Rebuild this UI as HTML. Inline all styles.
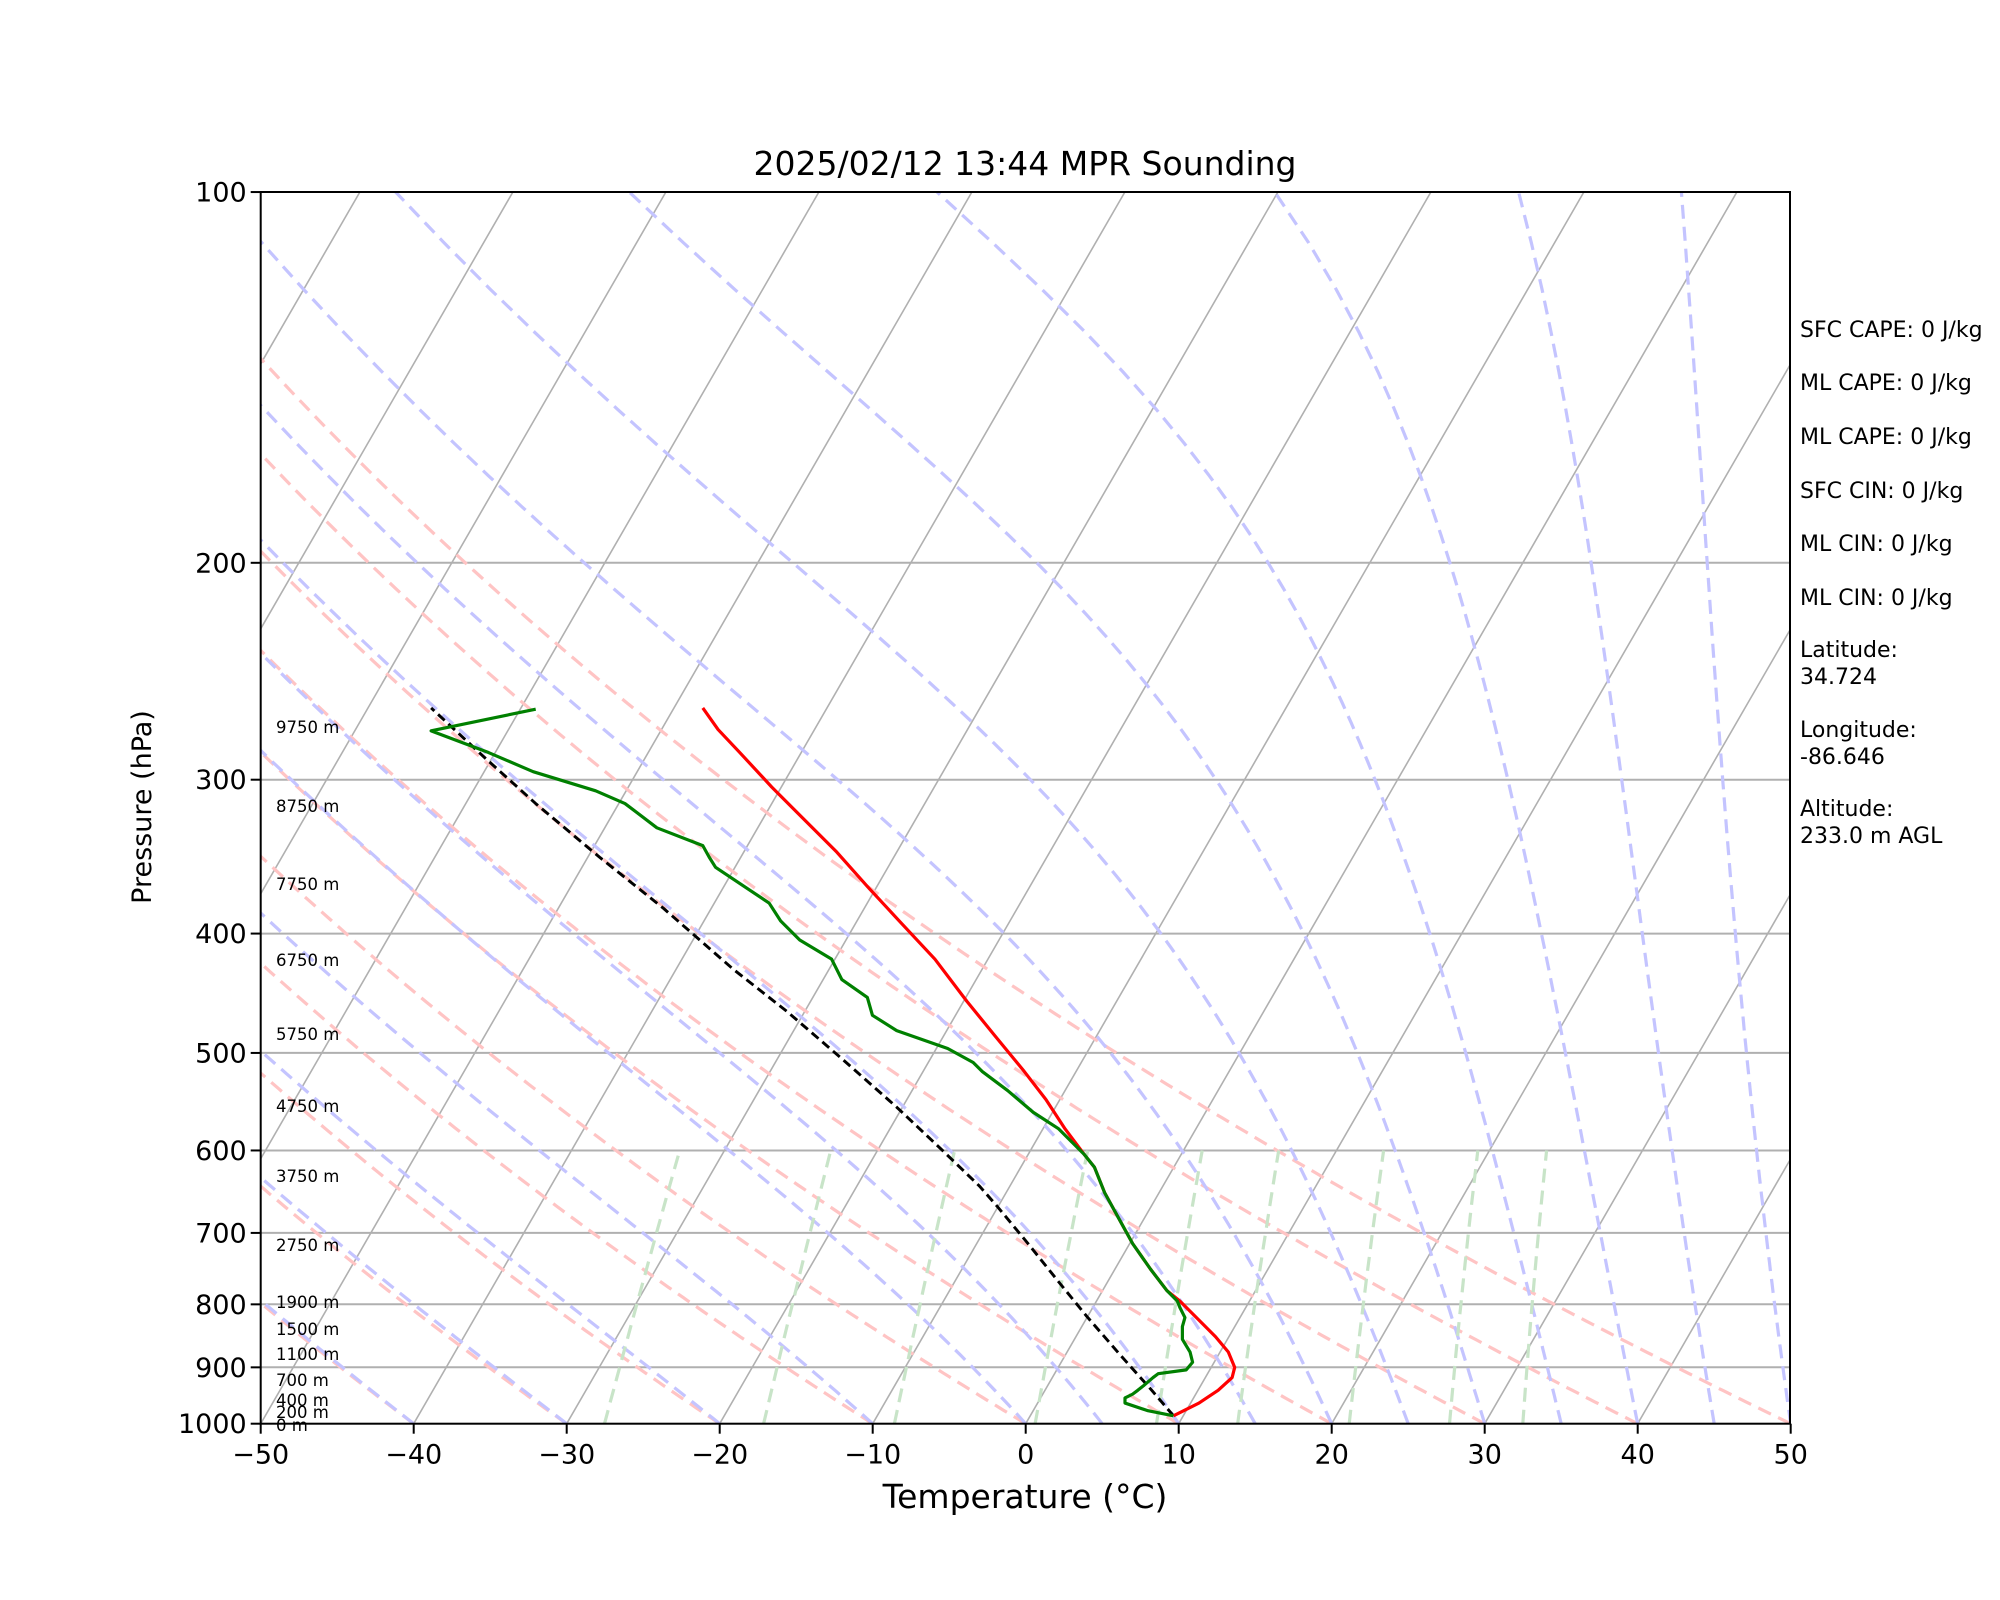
<!DOCTYPE html>
<html><head><meta charset="utf-8"><style>
html,body{margin:0;padding:0;background:#fff;}
svg{display:block;font-family:"DejaVu Sans","Liberation Sans",sans-serif;}
</style></head><body>
<svg id="s" xmlns="http://www.w3.org/2000/svg" width="2000" height="1600" viewBox="0 0 2000 1600">
<rect width="2000" height="1600" fill="#fff"/>
<defs><clipPath id="c"><rect x="260.7" y="192" width="1529.3" height="1231.7"/></clipPath></defs>
<g id="grid" clip-path="url(#c)"></g>
<g id="data" clip-path="url(#c)" transform="scale(1.2755)" fill="none" stroke-linejoin="round">
<polyline stroke="#000" stroke-width="2.3" stroke-dasharray="7,4" points="920,1110 903,1090 878,1062 852,1032 830,1005 806,975 782,946 768,930 740,903 703,868 660,830 617,793 575,760 520,712 470,672 420,630 380,594 338,555"/>
<polyline stroke="#ff0000" stroke-width="2.5" points="920,1110 940,1100 955,1090 966,1080 968,1072 963,1060 953,1048 940,1035 925,1020 915,1012 902,995 888,975 877,955 866,935 858,915 850,905 835,885 820,862 803,840 780,812 758,785 733,752 705,722 680,695 656,668 623,635 605,617 580,590 563,572 551,555"/>
<polyline stroke="#008000" stroke-width="2.5" points="920,1110 900,1106 882,1100 882,1096 888,1093 892,1090 897,1086 904,1080 908,1077 930,1074 935,1068 933,1060 927,1050 927,1040 929,1033 925,1025 923,1020 915,1012 902,995 888,975 877,955 866,935 858,915 850,905 840,895 830,885 810,872 790,855 770,840 763,833 743,822 703,808 684,796 680,782 660,768 652,752 627,737 612,722 603,708 561,680 556,672 551,663 515,649 490,630 467,620 418,605 383,590 338,573 420,556"/>
</g>
<rect x="260.7" y="192" width="1529.3" height="1231.7" fill="none" stroke="#000" stroke-width="2"/>
<g id="ticks" stroke="#000" stroke-width="2"></g>
<g id="txt" font-size="27" fill="#000"></g>
<text x="1025" y="175" font-size="33" text-anchor="middle">2025/02/12 13:44 MPR Sounding</text>
<text x="1025" y="1508" font-size="33" text-anchor="middle">Temperature (°C)</text>
<text x="0" y="0" font-size="27" text-anchor="middle" transform="translate(151,807) rotate(-90)">Pressure (hPa)</text>
<g font-size="22" fill="#000">
<text x="1800" y="337">SFC CAPE: 0 J/kg</text>
<text x="1800" y="390">ML CAPE: 0 J/kg</text>
<text x="1800" y="444">ML CAPE: 0 J/kg</text>
<text x="1800" y="498">SFC CIN: 0 J/kg</text>
<text x="1800" y="551">ML CIN: 0 J/kg</text>
<text x="1800" y="605">ML CIN: 0 J/kg</text>
<text x="1800" y="657">Latitude:</text><text x="1800" y="684">34.724</text>
<text x="1800" y="737">Longitude:</text><text x="1800" y="764">-86.646</text>
<text x="1800" y="816">Altitude:</text><text x="1800" y="843">233.0 m AGL</text>
</g>
<g font-size="16.5" fill="#000" id="hl"></g>
</svg>
<script>
var NS="http://www.w3.org/2000/svg";
var L=260.7,R=1790,T=192,B=1423.7,K=534.9,SK=0.5774,XS=15.3;
function Y(p){return B-K*Math.log(1000/p);}
function X(t,p){return L+(t+50)*XS+SK*(B-Y(p));}
function el(par,tag,a,txt){var e=document.createElementNS(NS,tag);for(var k in a)e.setAttribute(k,a[k]);if(txt!==undefined)e.textContent=txt;document.getElementById(par).appendChild(e);return e;}
function pl(pts,st,w,da){el("grid","polyline",{points:pts.map(function(q){return q[0].toFixed(1)+","+q[1].toFixed(1)}).join(" "),fill:"none",stroke:st,"stroke-width":w,"stroke-dasharray":da||"none"});}
var P=[];for(var p=1000;p>=100;p-=5)P.push(p);
[200,300,400,500,600,700,800,900].forEach(function(p){pl([[L,Y(p)],[R,Y(p)]],"#b0b0b0",2);});
for(var t=-150;t<=50;t+=10){pl([[X(t,1000),B],[X(t,100),T]],"#b0b0b0",1.6);}
for(var t0=-40;t0<=50;t0+=10){pl(P.map(function(p){return [X((t0+273.15)*Math.pow(p/1000,0.2857)-273.15,p),Y(p)]}),"#ffc4c4",3.2,"14,8");}
function es(tc){return 6.112*Math.exp(17.67*tc/(tc+243.5));}
function dTdp(p,Tk){var rs=0.622*es(Tk-273.15)/(p-es(Tk-273.15));var Rd=287.04,Lv=2.501e6,Cp=1005.7;return (1/p)*(Rd*Tk+Lv*rs)/(Cp+Lv*Lv*rs*0.622/(Rd*Tk*Tk));}
var mts=[-50,-40,-30,-20,-10];for(var t=0;t<=50;t+=5)mts.push(t);
mts.forEach(function(t0){var Tk=t0+273.15,p=1000,pts=[[X(t0,1000),B]];var h=-2;
 while(p>100){var k1=dTdp(p,Tk),k2=dTdp(p+h/2,Tk+h/2*k1),k3=dTdp(p+h/2,Tk+h/2*k2),k4=dTdp(p+h,Tk+h*k3);Tk+=h/6*(k1+2*k2+2*k3+k4);p+=h;if(Math.round(p)%10==0)pts.push([X(Tk-273.15,p),Y(p)]);}
 pl(pts,"#c4c4ff",3.2,"14,8");});
[0.0004,0.001,0.002,0.004,0.007,0.01,0.016,0.024,0.032].forEach(function(w){var pts=[];for(var p=1000;p>=600;p-=20){var e=p*w/(0.622+w),l=Math.log(e/6.112),td=243.5*l/(17.67-l);pts.push([X(td,p),Y(p)]);}pl(pts,"#c8e4c8",3.2,"14,8");});
for(var p=100;p<=1000;p+=100){var y=Y(p);el("ticks","line",{x1:L-10,y1:y,x2:L,y2:y});el("txt","text",{x:L-14,y:y+9.5,"text-anchor":"end"},String(p));}
for(var t=-50;t<=50;t+=10){var x=L+(t+50)*XS;el("ticks","line",{x1:x,y1:B,x2:x,y2:B+10});el("txt","text",{x:x,y:B+40,"text-anchor":"middle"},(t<0?"\u2212"+(-t):String(t)));}
[["9750 m",727],["8750 m",806],["7750 m",884],["6750 m",960],["5750 m",1034],["4750 m",1106],["3750 m",1176],["2750 m",1245],["1900 m",1302],["1500 m",1329],["1100 m",1354],["700 m",1380],["400 m",1400],["200 m",1412],["0 m",1425]].forEach(function(a){el("hl","text",{x:276,y:a[1]+6},a[0]);});
</script>
</body></html>
